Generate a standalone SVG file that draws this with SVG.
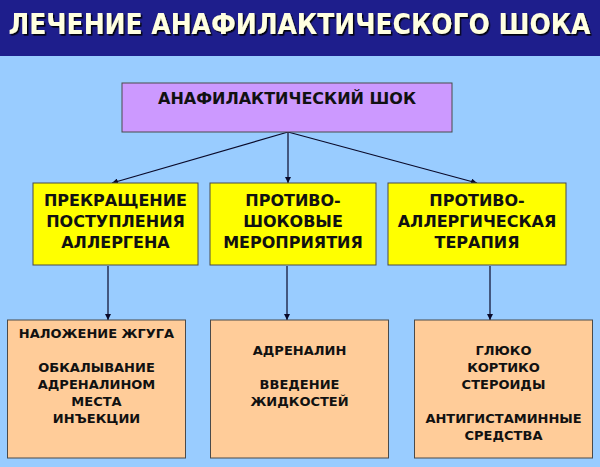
<svg xmlns="http://www.w3.org/2000/svg" width="600" height="467" viewBox="0 0 600 467">
<defs>
<marker id="ah" viewBox="0 0 10 10" refX="10" refY="5" markerWidth="6" markerHeight="6" markerUnits="userSpaceOnUse" orient="auto">
<path d="M0,0 L10,5 L0,10 z" fill="#0a0a2a"/>
</marker>
<filter id="sh" x="-5%" y="-20%" width="110%" height="140%">
<feDropShadow dx="1.5" dy="1.5" stdDeviation="0.6" flood-color="#000" flood-opacity="0.9"/>
</filter>
</defs>
<style>
text{font-family:"DejaVu Sans","Liberation Sans",sans-serif;font-weight:bold;text-anchor:middle;fill:#111}
.box{stroke:#4a4a4a;stroke-width:1}
.top{fill:#cc99ff}
.yel{fill:#ffff00}
.peach{fill:#ffcc99}
.y{font-size:16px}
.p{font-size:13px}
.c{stroke:#0a0a2a;stroke-width:1.2;fill:none;marker-end:url(#ah)}
</style>
<rect x="0" y="0" width="600" height="467" fill="#99ccff"/>
<rect x="0" y="0" width="600" height="56" fill="#1e1e8c"/>
<text x="299.5" y="30.5" font-size="25" transform="scale(1,1.1)" style="fill:#ffffe0" textLength="582" lengthAdjust="spacingAndGlyphs" filter="url(#sh)">ЛЕЧЕНИЕ АНАФИЛАКТИЧЕСКОГО ШОКА</text>

<g id="connectors">
<line class="c" x1="288" y1="132" x2="112" y2="183"/>
<line class="c" x1="288" y1="132" x2="288" y2="183"/>
<line class="c" x1="288" y1="132" x2="477" y2="183"/>
<line class="c" x1="108" y1="266" x2="108" y2="320"/>
<line class="c" x1="287" y1="266" x2="287" y2="320"/>
<line class="c" x1="490" y1="266" x2="490" y2="320"/>
</g>

<g id="n-shock">
<rect class="box top" x="122" y="83" width="330" height="49"/>
<text class="y" x="287" y="104">АНАФИЛАКТИЧЕСКИЙ ШОК</text>
</g>

<g id="n-stop">
<rect class="box yel" x="33" y="183" width="165" height="82"/>
<text class="y" x="115.5" y="205.5">ПРЕКРАЩЕНИЕ</text>
<text class="y" x="115.5" y="226.5">ПОСТУПЛЕНИЯ</text>
<text class="y" x="115.5" y="247.5">АЛЛЕРГЕНА</text>
</g>

<g id="n-antishock">
<rect class="box yel" x="210" y="183" width="166" height="82"/>
<text class="y" x="293" y="205.5">ПРОТИВО-</text>
<text class="y" x="293" y="226.5">ШОКОВЫЕ</text>
<text class="y" x="293" y="247.5">МЕРОПРИЯТИЯ</text>
</g>

<g id="n-antiallergic">
<rect class="box yel" x="388" y="183" width="178" height="82"/>
<text class="y" x="477" y="205.5">ПРОТИВО-</text>
<text class="y" x="477" y="226.5">АЛЛЕРГИЧЕСКАЯ</text>
<text class="y" x="477" y="247.5">ТЕРАПИЯ</text>
</g>

<g id="n-local">
<rect class="box peach" x="7.5" y="320" width="178" height="138"/>
<text class="p" x="96.5" y="338">НАЛОЖЕНИЕ ЖГУГА</text>
<text class="p" x="96.5" y="372">ОБКАЛЫВАНИЕ</text>
<text class="p" x="96.5" y="389">АДРЕНАЛИНОМ</text>
<text class="p" x="96.5" y="406">МЕСТА</text>
<text class="p" x="96.5" y="423">ИНЪЕКЦИИ</text>
</g>

<g id="n-adrenaline">
<rect class="box peach" x="210.5" y="320" width="178" height="138"/>
<text class="p" x="299.5" y="355">АДРЕНАЛИН</text>
<text class="p" x="299.5" y="389">ВВЕДЕНИЕ</text>
<text class="p" x="299.5" y="406">ЖИДКОСТЕЙ</text>
</g>

<g id="n-steroids">
<rect class="box peach" x="414.5" y="320" width="178" height="138"/>
<text class="p" x="503.5" y="355">ГЛЮКО</text>
<text class="p" x="503.5" y="372">КОРТИКО</text>
<text class="p" x="503.5" y="389">СТЕРОИДЫ</text>
<text class="p" x="503.5" y="422.5">АНТИГИСТАМИННЫЕ</text>
<text class="p" x="503.5" y="439.5">СРЕДСТВА</text>
</g>
</svg>
